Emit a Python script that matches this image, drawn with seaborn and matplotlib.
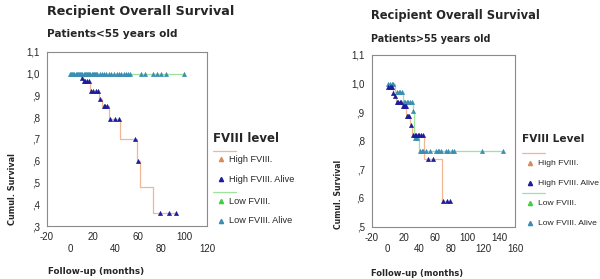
import numpy as np
import pandas as pd
import matplotlib
matplotlib.use("Agg")
import matplotlib.pyplot as plt
import seaborn as sns
from matplotlib.lines import Line2D

# ---- data: left panel (patients < 55) ----
# step points of the Kaplan-Meier curves (time, survival after step)
young_high_t = [0, 10, 11.6, 18, 25.8, 28.1, 33.9, 44, 59, 61.5, 72.5, 93]
young_high_s = [1.0, 0.98, 0.965, 0.92, 0.885, 0.85, 0.79, 0.70, 0.60, 0.48, 0.36, 0.36]
young_low_t = [0, 100]
young_low_s = [1.0, 1.0]
# censored cases (alive)
young_high_cens_t = [10.6, 12.2, 13.6, 15, 16.5, 18.6, 20.5, 22.5, 24.6, 26, 29.6, 31, 32.4,
                     35.4, 39.7, 43.4, 57, 59.5, 78.9, 86.7, 92.8]
young_high_cens_s = [0.98, 0.965, 0.965, 0.965, 0.965, 0.92, 0.92, 0.92, 0.92, 0.885, 0.85, 0.85, 0.85,
                     0.79, 0.79, 0.79, 0.70, 0.60, 0.36, 0.36, 0.36]
young_low_cens_t = [0, 1, 2, 3, 4, 5, 6, 7, 8, 9, 10, 11, 12, 13, 14, 15, 16, 17, 18, 19, 20, 21,
                    22, 23, 24, 26, 28, 30, 32, 34, 36, 39, 41, 43, 45, 47, 49, 51, 53,
                    62, 66, 73, 76, 80, 84, 100]

# ---- data: right panel (patients > 55) ----
old_high_t = [0, 0.5, 6.5, 8.5, 11, 17.5, 23, 28.5, 31, 46, 68.5, 78.5]
old_high_s = [1.0, 0.988, 0.968, 0.955, 0.937, 0.92, 0.887, 0.854, 0.819, 0.735, 0.59, 0.59]
old_low_t = [0, 9, 19.2, 31.6, 33.6, 39, 144.5]
old_low_s = [1.0, 0.97, 0.936, 0.904, 0.808, 0.765, 0.765]
old_high_cens_t = [1, 2.5, 4, 5.5, 7, 9, 12, 13.5, 15, 16.5, 19, 20.5, 22, 23.5, 24, 25.5, 27,
                   29.5, 32, 34, 36, 38, 40, 42, 44, 50.2, 57.5, 70, 74, 78.5]
old_high_cens_s = [0.988, 0.988, 0.988, 0.988, 0.968, 0.955, 0.937, 0.937, 0.937, 0.937,
                   0.92, 0.92, 0.92, 0.92, 0.887, 0.887, 0.887, 0.854,
                   0.819, 0.819, 0.819, 0.819, 0.819, 0.819, 0.819, 0.735, 0.735, 0.59, 0.59, 0.59]
old_low_cens_t = [1, 3, 5, 7, 12, 14, 16, 18, 20, 22, 24, 26, 28, 30, 32.5, 35, 37,
                  41, 43, 45, 48, 53, 61, 63, 65, 67, 73, 76, 81, 83, 118.5, 144.5]
old_low_cens_s = [1.0, 1.0, 1.0, 1.0, 0.97, 0.97, 0.97, 0.97, 0.936, 0.936, 0.936, 0.936, 0.936,
                  0.936, 0.904, 0.808, 0.808, 0.765, 0.765, 0.765, 0.765, 0.765, 0.765, 0.765,
                  0.765, 0.765, 0.765, 0.765, 0.765, 0.765, 0.765, 0.765]

legend_labels = ["High FVIII.", "High FVIII. Alive", "Low FVIII.", "Low FVIII. Alive"]

HIGH_LINE = "#efb793"
HIGH_MARK = "#d98a5e"
HIGH_ALIVE = "#1c1c9c"
LOW_LINE = "#9de59d"
LOW_MARK = "#3fcf3f"
LOW_ALIVE = "#3a8db3"

sns.set_style("white")
plt.rcParams["font.family"] = ["Liberation Sans", "DejaVu Sans"]

W, H = 600, 279
fig = plt.figure(figsize=(6, 2.79), dpi=100)


def px(x, y):
    return x / W, 1 - y / H


def tick_fmt(v):
    s = f"{v:.1f}".replace(".", ",")
    return s[1:] if s.startswith("0") else s


def km_panel(ax, curves, xlim, ylim, xstep):
    for t, s, col in curves["lines"]:
        sns.lineplot(x=t, y=s, drawstyle="steps-post", estimator=None, sort=False,
                     color=col, lw=0.9, ax=ax)
    for t, s, col in curves["marks"]:
        sns.scatterplot(x=t, y=s, marker="^", s=11, color=col, edgecolor=col,
                        linewidth=0.2, ax=ax, zorder=3)
    xt = np.arange(xlim[0], xlim[1] + 1, xstep)
    ax.set_xlim(xlim)
    ax.set_xticks(xt)
    ax.set_xticklabels([str(v) if i % 2 == 0 else "\n" + str(v) for i, v in enumerate(xt)])
    yt = np.round(np.arange(ylim[0], ylim[1] + 0.001, 0.1), 1)
    ax.set_ylim(ylim)
    ax.set_yticks(yt)
    ax.set_yticklabels([tick_fmt(v) for v in yt])
    ax.tick_params(axis="both", labelsize=7, length=3, width=0.6, color="#888888",
                   pad=2, direction="out")
    ax.tick_params(axis="x", pad=1.5)
    for sp in ax.spines.values():
        sp.set_color("#8a8a8a")
        sp.set_linewidth(0.8)
    ax.set_xlabel("")
    ax.set_ylabel("")


def legend_block(title, x0, ytitle, ys, fs_title, fs):
    fig.text(*px(x0, ytitle), title, fontsize=fs_title, fontweight="bold",
             family="DejaVu Sans", va="center")
    # ys: line1, mark1, mark2, line2, mark3, mark4
    for yl, col in [(ys[0], HIGH_LINE), (ys[3], LOW_LINE)]:
        fig.add_artist(Line2D([x0 / W, (x0 + 23) / W], [1 - yl / H] * 2, color=col, lw=0.9))
    marks = [(ys[1], HIGH_MARK), (ys[2], HIGH_ALIVE), (ys[4], LOW_MARK), (ys[5], LOW_ALIVE)]
    for (ym, col), lab in zip(marks, legend_labels):
        fig.add_artist(Line2D([(x0 + 8) / W], [1 - ym / H], marker="^", ms=3,
                              color=col, lw=0))
        fig.text(*px(x0 + 16, ym), lab, fontsize=fs, va="center")


# ---- left panel ----
ax1 = fig.add_axes([47 / W, 53 / H, 160 / W, 174 / H])
km_panel(ax1, {
    "lines": [(young_low_t, young_low_s, LOW_LINE), (young_high_t, young_high_s, HIGH_LINE)],
    "marks": [(young_high_cens_t, young_high_cens_s, HIGH_ALIVE),
              (young_low_cens_t, [1.0] * len(young_low_cens_t), LOW_ALIVE)],
}, (-20, 120), (0.3, 1.1), 20)

fig.text(*px(47, 11.7), "Recipient Overall Survival", fontsize=9.2, fontweight="bold",
         family="DejaVu Sans", va="center")
fig.text(*px(47, 34.3), "Patients<55 years old", fontsize=7.6, fontweight="bold",
         family="DejaVu Sans", va="center")
fig.text(*px(13, 189), "Cumul. Survival", fontsize=5.9, fontweight="bold",
         family="DejaVu Sans", rotation=90, va="center", ha="center")
fig.text(*px(48, 272), "Follow-up (months)", fontsize=6.3, fontweight="bold",
         family="DejaVu Sans", va="center")
legend_block("FVIII level", 213, 138.5, [150.7, 159.3, 179.3, 191.7, 201, 220.5], 8.5, 6.6)

# ---- right panel ----
ax2 = fig.add_axes([371.7 / W, 52.5 / H, 143.3 / W, 171.5 / H])
km_panel(ax2, {
    "lines": [(old_low_t, old_low_s, LOW_LINE), (old_high_t, old_high_s, HIGH_LINE)],
    "marks": [(old_low_cens_t, old_low_cens_s, LOW_ALIVE),
              (old_high_cens_t, old_high_cens_s, HIGH_ALIVE)],
}, (-20, 160), (0.5, 1.1), 20)

fig.text(*px(371, 15.7), "Recipient Overall Survival", fontsize=8.3, fontweight="bold",
         family="DejaVu Sans", va="center")
fig.text(*px(371, 39), "Patients>55 years old", fontsize=6.9, fontweight="bold",
         family="DejaVu Sans", va="center")
fig.text(*px(339, 194), "Cumul. Survival", fontsize=5.6, fontweight="bold",
         family="DejaVu Sans", rotation=90, va="center", ha="center")
fig.text(*px(371, 273), "Follow-up (months)", fontsize=6, fontweight="bold",
         family="DejaVu Sans", va="center")
legend_block("FVIII Level", 521.5, 139.5, [152.7, 163.3, 183.3, 193.3, 203.3, 223.3], 7.6, 6.1)

fig.savefig("out.png", dpi=100)
